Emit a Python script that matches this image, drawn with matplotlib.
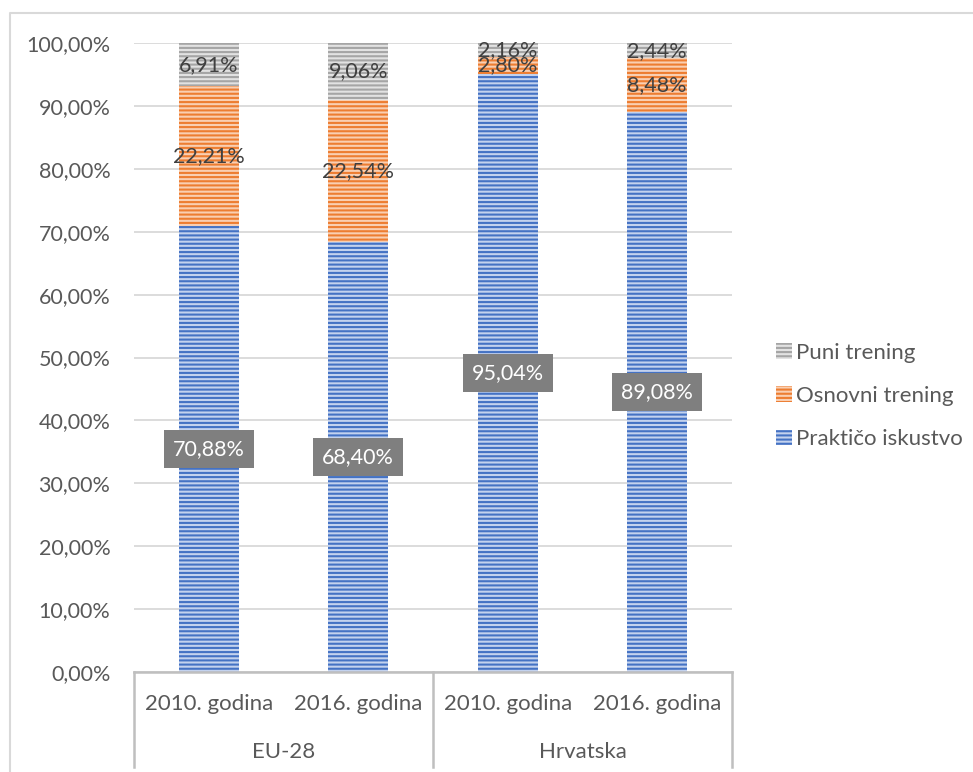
import matplotlib
matplotlib.use("Agg")
import matplotlib.pyplot as plt
from matplotlib.transforms import blended_transform_factory
from matplotlib.lines import Line2D

plt.rcParams['font.family'] = ['Lato', 'DejaVu Sans']
plt.rcParams['hatch.linewidth'] = 1.5

# stacked shares per column
groups = ["EU-28", "Hrvatska"]
years = ["2010. godina", "2016. godina", "2010. godina", "2016. godina"]
prakticno = [70.88, 68.40, 95.04, 89.08]
osnovni = [22.21, 22.54, 2.80, 8.48]
puni = [6.91, 9.06, 2.16, 2.44]

series = [
    ("Praktičo iskustvo", prakticno, "#4472C4", "#c3d2ee"),
    ("Osnovni trening", osnovni, "#ED7D31", "#f9cfb2"),
    ("Puni trening", puni, "#A5A5A5", "#e2e2e2"),
]

W, H = 973, 772
fig = plt.figure(figsize=(W / 100, H / 100), dpi=100)
ax = fig.add_axes([134 / W, 1 - 672 / H, (732 - 134) / W, (672 - 43) / H])

x = list(range(len(years)))
bottom = [0.0] * len(years)
for name, vals, col, light in series:
    ax.bar(x, vals, 0.4, bottom=bottom, color=light, edgecolor=col,
           linewidth=0, hatch="----", label=name, zorder=2)
    for i, v in enumerate(vals):
        txt = f"{v:.2f}%".replace(".", ",")
        yc = bottom[i] + v / 2
        if name.startswith("Prak"):
            ax.text(i, yc, txt, ha="center", va="center", fontsize=15.5,
                    color="white", zorder=4,
                    bbox=dict(boxstyle="square,pad=0.42", fc="#7f7f7f", ec="none"))
        else:
            ax.text(i, yc, txt, ha="center", va="center", fontsize=15.5,
                    color="#404040", zorder=4)
    bottom = [b + v for b, v in zip(bottom, vals)]

ax.set_xlim(-0.5, 3.5)
ax.set_ylim(0, 100)
ax.set_yticks(range(0, 101, 10))
ax.set_yticklabels([f"{t},00%" for t in range(0, 101, 10)], fontsize=15.5,
                   color="#595959")
ax.tick_params(axis="y", length=0, pad=17)
ax.set_xticks([])
ax.yaxis.grid(True, color="#d9d9d9", linewidth=1.3, zorder=0)
ax.set_axisbelow(True)
for s in ["left", "right", "top"]:
    ax.spines[s].set_visible(False)
ax.spines["bottom"].set_color("#bfbfbf")
ax.spines["bottom"].set_linewidth(1.8)
ax.spines["bottom"].set_zorder(5)

# two-level category axis
tr = blended_transform_factory(ax.transData, fig.transFigure)
for i, lab in enumerate(years):
    ax.text(i, 1 - 704 / H, lab, transform=tr, ha="center", va="center",
            fontsize=16, color="#595959")
for g, lab in enumerate(groups):
    ax.text(2 * g + 0.5, 1 - 752 / H, lab, transform=tr, ha="center",
            va="center", fontsize=16, color="#595959")
for xs in [-0.5, 1.5, 3.5]:
    fig.add_artist(Line2D([xs, xs], [1 - 672 / H, 1 - 767 / H], transform=tr,
                          color="#bfbfbf", linewidth=1.8))

# chart frame
fig.add_artist(Line2D([10 / W, 10 / W, 1.0], [0.0, 1 - 13 / H, 1 - 13 / H],
                      transform=fig.transFigure, color="#d9d9d9", linewidth=1.5))

handles, labels = ax.get_legend_handles_labels()
ax.legend(handles[::-1], labels[::-1], loc="center left",
          bbox_to_anchor=(756 / W, 1 - 396 / H), bbox_transform=fig.transFigure,
          frameon=False, fontsize=16, handlelength=0.7, handleheight=0.7,
          handletextpad=0.2, labelspacing=1.05, labelcolor="#595959")

fig.savefig("out.png", dpi=100, facecolor="white")
